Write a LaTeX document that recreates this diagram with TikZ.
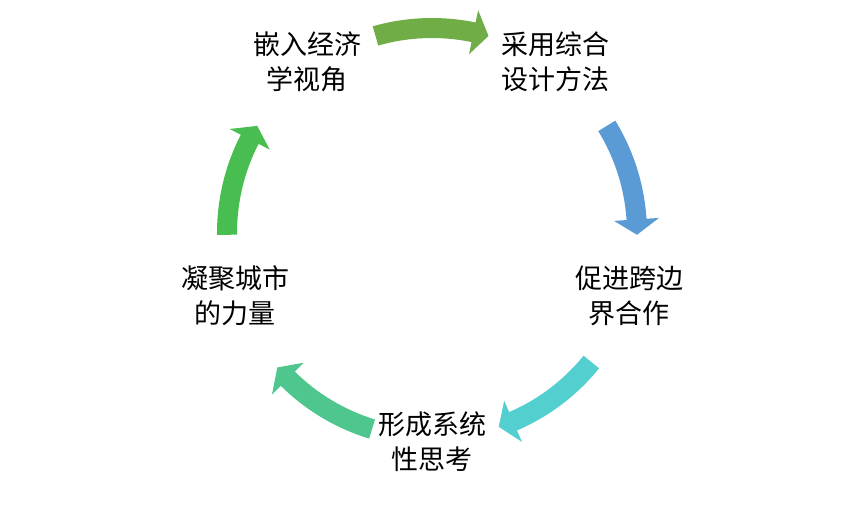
\documentclass[tikz,border=0pt]{standalone}
\usepackage{fontspec}
\setmainfont{Noto Sans CJK SC}
\definecolor{arrA}{HTML}{70AD47}
\definecolor{arrB}{HTML}{5B9BD5}
\definecolor{arrC}{HTML}{52CFCE}
\definecolor{arrD}{HTML}{4EC68D}
\definecolor{arrE}{HTML}{48BE50}
\tikzset{
  cyctext/.style={align=center, inner sep=0pt, text=black,
    font=\fontsize{27pt}{35pt}\selectfont},
}
\newcommand\cyclearrow[2]{%
  \pgfmathsetmacro\arTail{#1+16}%
  \pgfmathsetmacro\arBase{#1-11.7}%
  \pgfmathsetmacro\arTip{#1-16}%
  \fill[#2, shift={(432pt,272pt)}]
    (\arTail:215pt) arc[start angle=\arTail, end angle=\arBase, radius=215pt]
    -- (\arBase:227.5pt) -- (\arTip:205pt) -- (\arBase:182.5pt)
    -- (\arBase:195pt) arc[start angle=\arBase, end angle=\arTail, radius=195pt]
    -- cycle;}
\begin{document}
\begin{tikzpicture}
\useasboundingbox (0pt,0pt) rectangle (865pt,505pt);
\node[cyctext] (tl) at (307pt,443pt) {嵌入经济\\学视角};
\node[cyctext] (tr) at (555pt,443pt) {采用综合\\设计方法};
\node[cyctext] (r)  at (629pt,209pt) {促进跨边\\界合作};
\node[cyctext] (b)  at (432pt,63pt)  {形成系统\\性思考};
\node[cyctext] (l)  at (235pt,209pt) {凝聚城市\\的力量};
\cyclearrow{90}{arrA}
\cyclearrow{15.5}{arrB}
\cyclearrow{-55}{arrC}
\cyclearrow{-123}{arrD}
\cyclearrow{164.5}{arrE}
\end{tikzpicture}
\end{document}
